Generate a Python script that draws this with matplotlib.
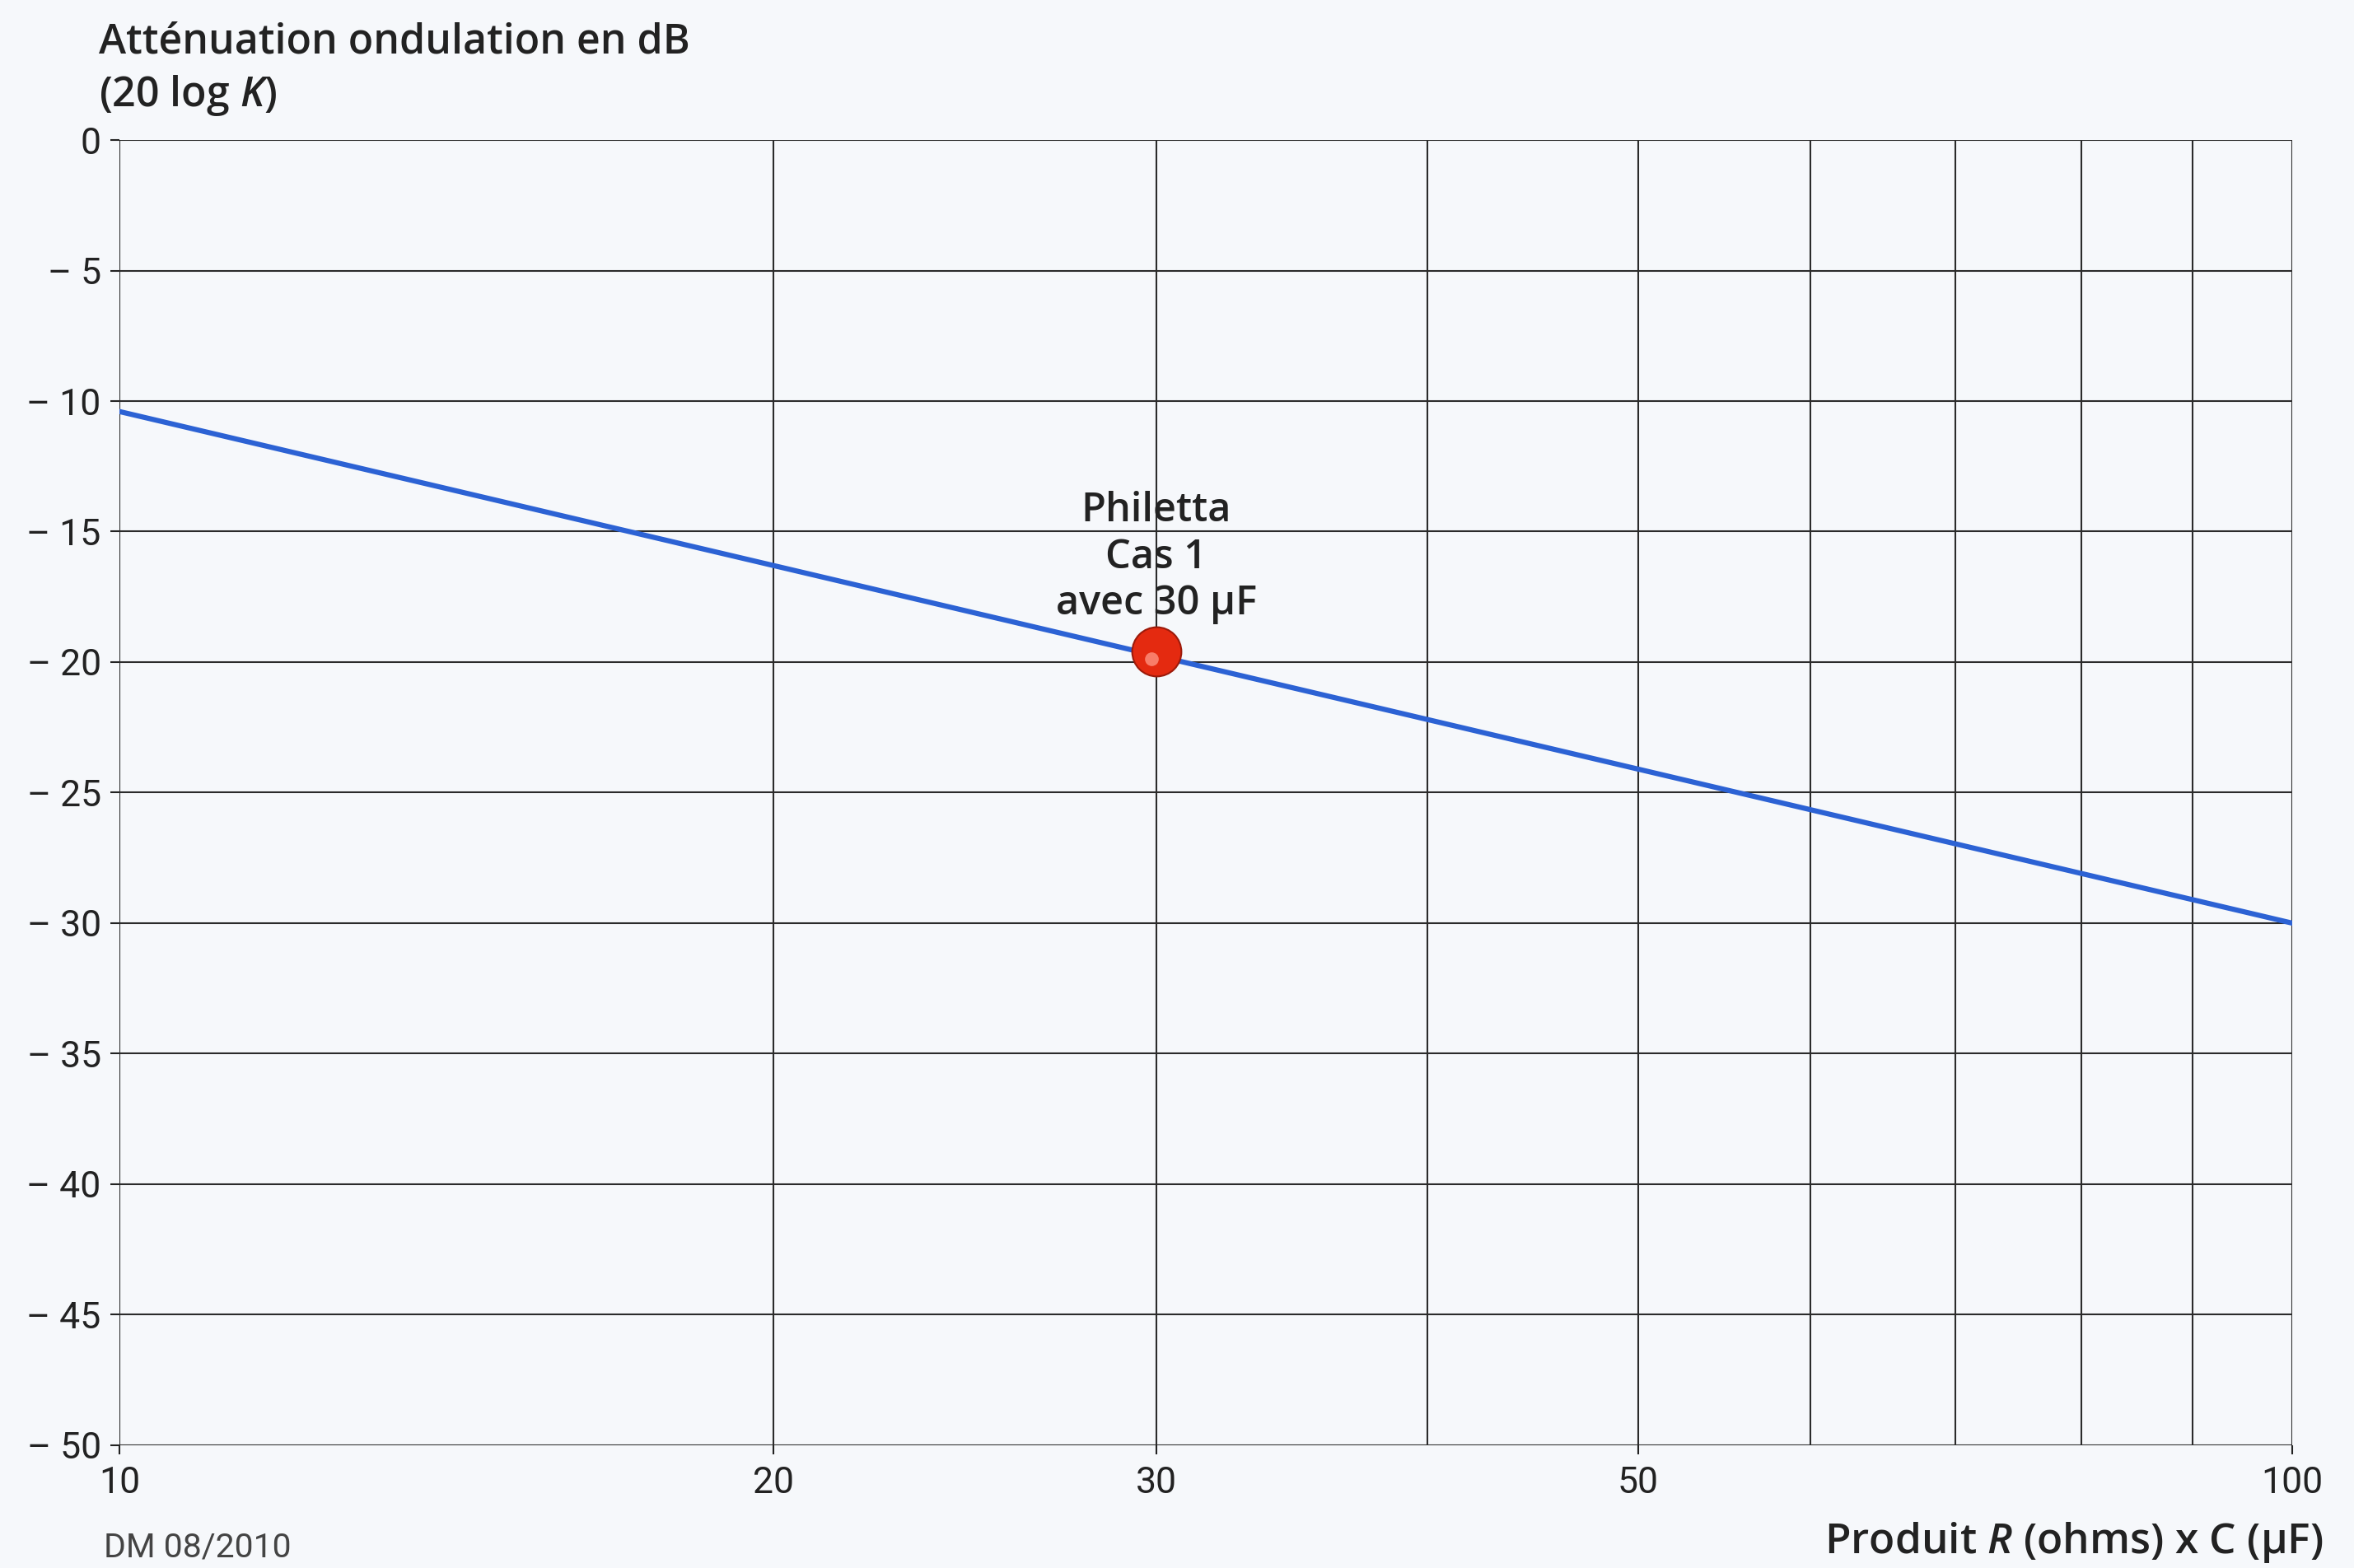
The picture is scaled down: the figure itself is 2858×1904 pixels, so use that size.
import numpy as np
import matplotlib
matplotlib.use("Agg")
import matplotlib.pyplot as plt
from matplotlib.ticker import FixedLocator, FixedFormatter, NullLocator
from matplotlib.transforms import offset_copy

# data
rc_line = [10, 100]            # produit R x C
att_line = [-10.4, -30.0]      # attenuation (dB)
rc_point = [30]
att_point = [-19.6]
point_label = "Philetta\nCas 1\navec 30 µF"

x_grid = [10, 20, 30, 40, 50, 60, 70, 80, 90, 100]
x_label_ticks = [10, 20, 30, 50, 100]
x_label_text = ["10", "20", "30", "50", "100"]
y_ticks = [0, -5, -10, -15, -20, -25, -30, -35, -40, -45, -50]
y_labels = ["0"] + ["\u2013 %d" % abs(v) for v in y_ticks[1:]]

plt.rcParams['font.family'] = ['Roboto', 'DejaVu Sans']
plt.rcParams['mathtext.fontset'] = 'custom'
plt.rcParams['mathtext.rm'] = 'Open Sans:semibold'
plt.rcParams['mathtext.it'] = 'Open Sans:italic:semibold'

bg = '#f6f8fb'
grid_c = '#2b2b2b'
txt_c = '#222222'
head_font = ['Open Sans', 'DejaVu Sans']

fig = plt.figure(figsize=(28.58, 19.04), dpi=100, facecolor=bg)
ax = fig.add_axes([0.0507, 0.0783, 0.9231, 0.8324], facecolor=bg)

ax.set_xscale('log')
ax.set_xlim(10, 100)
ax.set_ylim(-50, 0)

# grid
for xv in x_grid:
    ax.axvline(xv, color=grid_c, lw=1.5, zorder=1)
for yv in y_ticks:
    ax.axhline(yv, color=grid_c, lw=1.5, zorder=1)

for s in ax.spines.values():
    s.set_visible(False)

ax.xaxis.set_major_locator(FixedLocator(x_label_ticks))
ax.xaxis.set_major_formatter(FixedFormatter(x_label_text))
ax.xaxis.set_minor_locator(NullLocator())
ax.set_yticks(y_ticks)
ax.set_yticklabels(y_labels)
ax.tick_params(axis='both', labelsize=32, colors=txt_c, width=1.5, length=8)
ax.tick_params(axis='x', pad=10)
ax.tick_params(axis='y', pad=8)

ax.plot(rc_line, att_line, color='#2c62d4', lw=4.5, zorder=3)
ax.plot(rc_point, att_point, 'o', ms=43, color='#e42a10', mec='#9c1a0a', mew=1.5, zorder=4)
hl = offset_copy(ax.transData, fig=fig, x=-4, y=-6, units='points')
ax.plot(rc_point, att_point, 'o', ms=12, color='#ff9a88', mec='none', alpha=0.75,
        transform=hl, zorder=5)

ax.text(rc_point[0], -16.0, point_label, ha='center', va='center', fontsize=35,
        family=head_font, fontweight='semibold', color=txt_c, linespacing=1.2, zorder=6)

fig.text(0.042, 0.986, "Atténuation ondulation en dB\n(20 log $K$)", ha='left', va='top',
         fontsize=36, family=head_font, fontweight='semibold', color=txt_c, linespacing=1.3)
fig.text(0.044, 0.003, "DM 08/2010", ha='left', va='bottom', fontsize=29.5, color='#444444')
fig.text(0.987, 0.002, "Produit $R$ (ohms) x C (µF)", ha='right', va='bottom',
         fontsize=37, family=head_font, fontweight='semibold', color=txt_c)

fig.savefig("out.png", dpi=100, facecolor=bg)
